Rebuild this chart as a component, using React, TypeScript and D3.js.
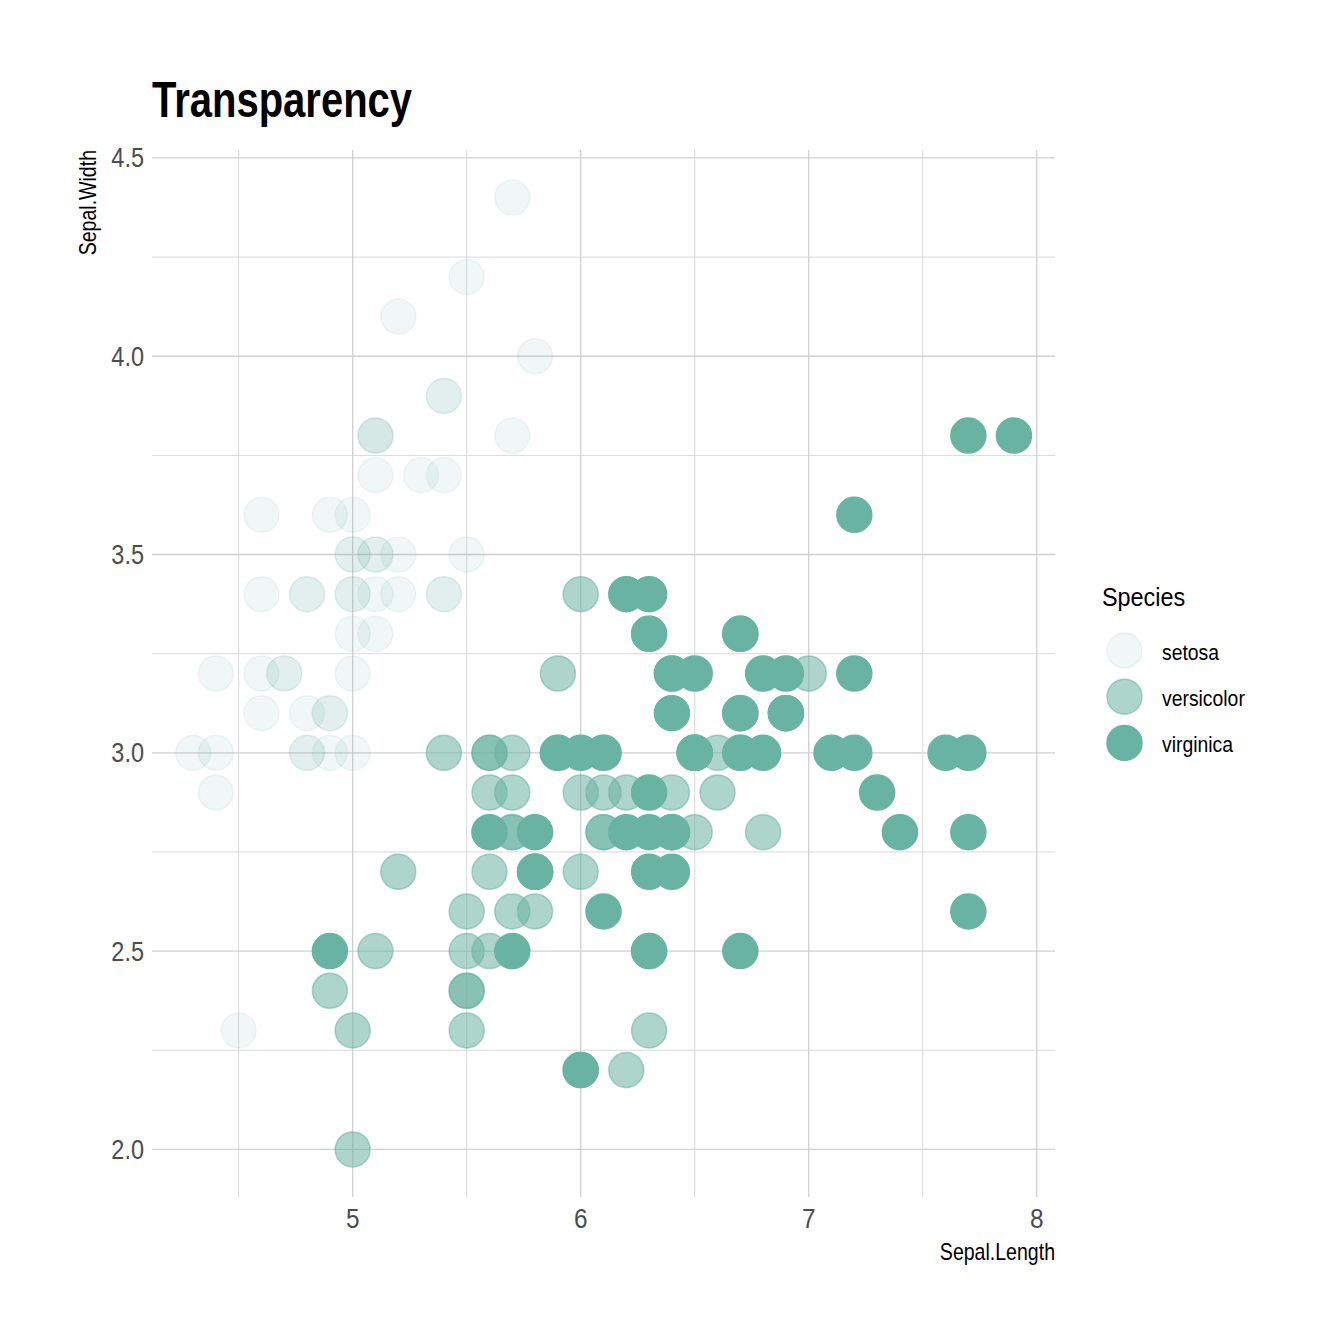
import { useEffect, useRef } from "react";
import * as d3 from "d3";

// iris data: Sepal.Length / Sepal.Width per species
const setosaLength = [5.1, 4.9, 4.7, 4.6, 5.0, 5.4, 4.6, 5.0, 4.4, 4.9, 5.4, 4.8, 4.8, 4.3, 5.8, 5.7, 5.4, 5.1, 5.7, 5.1, 5.4, 5.1, 4.6, 5.1, 4.8, 5.0, 5.0, 5.2, 5.2, 4.7, 4.8, 5.4, 5.2, 5.5, 4.9, 5.0, 5.5, 4.9, 4.4, 5.1, 5.0, 4.5, 4.4, 5.0, 5.1, 4.8, 5.1, 4.6, 5.3, 5.0];
const setosaWidth = [3.5, 3.0, 3.2, 3.1, 3.6, 3.9, 3.4, 3.4, 2.9, 3.1, 3.7, 3.4, 3.0, 3.0, 4.0, 4.4, 3.9, 3.5, 3.8, 3.8, 3.4, 3.7, 3.6, 3.3, 3.4, 3.0, 3.4, 3.5, 3.4, 3.2, 3.1, 3.4, 4.1, 4.2, 3.1, 3.2, 3.5, 3.6, 3.0, 3.4, 3.5, 2.3, 3.2, 3.5, 3.8, 3.0, 3.8, 3.2, 3.7, 3.3];
const versicolorLength = [7.0, 6.4, 6.9, 5.5, 6.5, 5.7, 6.3, 4.9, 6.6, 5.2, 5.0, 5.9, 6.0, 6.1, 5.6, 6.7, 5.6, 5.8, 6.2, 5.6, 5.9, 6.1, 6.3, 6.1, 6.4, 6.6, 6.8, 6.7, 6.0, 5.7, 5.5, 5.5, 5.8, 6.0, 5.4, 6.0, 6.7, 6.3, 5.6, 5.5, 5.5, 6.1, 5.8, 5.0, 5.6, 5.7, 5.7, 6.2, 5.1, 5.7];
const versicolorWidth = [3.2, 3.2, 3.1, 2.3, 2.8, 2.8, 3.3, 2.4, 2.9, 2.7, 2.0, 3.0, 2.2, 2.9, 2.9, 3.1, 3.0, 2.7, 2.2, 2.5, 3.2, 2.8, 2.5, 2.8, 2.9, 3.0, 2.8, 3.0, 2.9, 2.6, 2.4, 2.4, 2.7, 2.7, 3.0, 3.4, 3.1, 2.3, 3.0, 2.5, 2.6, 3.0, 2.6, 2.3, 2.7, 3.0, 2.9, 2.9, 2.5, 2.8];
const virginicaLength = [6.3, 5.8, 7.1, 6.3, 6.5, 7.6, 4.9, 7.3, 6.7, 7.2, 6.5, 6.4, 6.8, 5.7, 5.8, 6.4, 6.5, 7.7, 7.7, 6.0, 6.9, 5.6, 7.7, 6.3, 6.7, 7.2, 6.2, 6.1, 6.4, 7.2, 7.4, 7.9, 6.4, 6.3, 6.1, 7.7, 6.3, 6.4, 6.0, 6.9, 6.7, 6.9, 5.8, 6.8, 6.7, 6.7, 6.3, 6.5, 6.2, 5.9];
const virginicaWidth = [3.3, 2.7, 3.0, 2.9, 3.0, 3.0, 2.5, 2.9, 2.5, 3.6, 3.2, 2.7, 3.0, 2.5, 2.8, 3.2, 3.0, 3.8, 2.6, 2.2, 3.2, 2.8, 2.8, 2.7, 3.3, 3.2, 2.8, 3.0, 2.8, 3.0, 2.8, 3.8, 2.8, 2.8, 2.6, 3.0, 3.4, 3.1, 3.0, 3.1, 3.1, 3.1, 2.7, 3.2, 3.3, 3.0, 2.5, 3.0, 3.4, 3.0];

const species = ["setosa", "versicolor", "virginica"];
const speciesAlpha = [0.1, 0.55, 1];
const xTicks = [5, 6, 7, 8];
const yTicks = [2.0, 2.5, 3.0, 3.5, 4.0, 4.5];
const xMinor = [4.5, 5.5, 6.5, 7.5];
const yMinor = [2.25, 2.75, 3.25, 3.75, 4.25];

type Pt = { x: number; y: number; s: number };

// no Arial Narrow available, so squeeze Liberation Sans horizontally
const FONT = "'Liberation Sans', Arial, sans-serif";
const COLOR = "#69b3a2";

export default function App() {
  const svgRef = useRef<SVGSVGElement>(null);

  useEffect(() => {
    const width = 1344;
    const height = 1344;
    const svg = d3.select(svgRef.current).attr("width", width).attr("height", height);
    svg.selectAll("*").remove();

    const left = 152;
    const right = 1055;
    const top = 150;
    const bottom = 1197;

    // data in row order
    const lengths = [setosaLength, versicolorLength, virginicaLength];
    const widths = [setosaWidth, versicolorWidth, virginicaWidth];
    const data: Pt[] = [];
    lengths.forEach((arr, s) => arr.forEach((x, i) => data.push({ x, y: widths[s][i], s })));

    const xExt = d3.extent(data, (d) => d.x) as [number, number];
    const yExt = d3.extent(data, (d) => d.y) as [number, number];
    const xPad = (xExt[1] - xExt[0]) * 0.05;
    const yPad = (yExt[1] - yExt[0]) * 0.05;
    const xScale = d3.scaleLinear().domain([xExt[0] - xPad, xExt[1] + xPad]).range([left, right]);
    const yScale = d3.scaleLinear().domain([yExt[0] - yPad, yExt[1] + yPad]).range([bottom, top]);
    const alpha = d3.scaleOrdinal<number, number>().domain([0, 1, 2]).range(speciesAlpha);

    // grids
    const grid = svg.append("g");
    grid.selectAll(".vminor").data(xMinor).join("line")
      .attr("x1", (d) => xScale(d)).attr("x2", (d) => xScale(d))
      .attr("y1", top).attr("y2", bottom)
      .attr("stroke", "#d9d9d9").attr("stroke-width", 1);
    grid.selectAll(".hminor").data(yMinor).join("line")
      .attr("y1", (d) => yScale(d)).attr("y2", (d) => yScale(d))
      .attr("x1", left).attr("x2", right)
      .attr("stroke", "#d9d9d9").attr("stroke-width", 1);
    grid.selectAll(".vmajor").data(xTicks).join("line")
      .attr("x1", (d) => xScale(d)).attr("x2", (d) => xScale(d))
      .attr("y1", top).attr("y2", bottom)
      .attr("stroke", "#d0d0d0").attr("stroke-width", 1.3);
    grid.selectAll(".hmajor").data(yTicks).join("line")
      .attr("y1", (d) => yScale(d)).attr("y2", (d) => yScale(d))
      .attr("x1", left).attr("x2", right)
      .attr("stroke", "#d0d0d0").attr("stroke-width", 1.3);

    // tick labels
    svg.append("g").selectAll("text").data(xTicks).join("text")
      .attr("transform", (d) => `translate(${xScale(d)}, 1228) scale(0.87, 1)`)
      .attr("text-anchor", "middle")
      .attr("font-family", FONT).attr("font-size", 28).attr("fill", "#4d4d4d")
      .text((d) => d3.format("d")(d));
    svg.append("g").selectAll("text").data(yTicks).join("text")
      .attr("transform", (d) => `translate(144, ${yScale(d) + 9.5}) scale(0.87, 1)`)
      .attr("text-anchor", "end")
      .attr("font-family", FONT).attr("font-size", 27).attr("fill", "#4d4d4d")
      .text((d) => d3.format(".1f")(d));

    // points
    svg.append("g").selectAll("circle").data(data).join("circle")
      .attr("cx", (d) => xScale(d.x)).attr("cy", (d) => yScale(d.y))
      .attr("r", 17.5)
      .attr("fill", COLOR).attr("fill-opacity", (d) => alpha(d.s))
      .attr("stroke", COLOR).attr("stroke-opacity", (d) => alpha(d.s))
      .attr("stroke-width", 1.5);

    // title and axis titles
    svg.append("text").attr("transform", "translate(152, 116.5) scale(0.8, 1)")
      .attr("font-family", FONT).attr("font-size", 50).attr("font-weight", "bold")
      .attr("fill", "#000").text("Transparency");
    svg.append("text").attr("transform", `translate(96, ${top}) rotate(-90) scale(0.85, 1)`)
      .attr("text-anchor", "end")
      .attr("font-family", FONT).attr("font-size", 23).attr("fill", "#000")
      .text("Sepal.Width");
    svg.append("text").attr("transform", `translate(${right}, 1260) scale(0.85, 1)`)
      .attr("text-anchor", "end")
      .attr("font-family", FONT).attr("font-size", 23).attr("fill", "#000")
      .text("Sepal.Length");

    // legend
    const legend = svg.append("g");
    legend.append("text").attr("transform", "translate(1102, 606) scale(0.9, 1)")
      .attr("font-family", FONT).attr("font-size", 26).attr("fill", "#000")
      .text("Species");
    const keys = legend.selectAll(".key").data(species).join("g")
      .attr("transform", (_, i) => `translate(0, ${650.5 + i * 46.2})`);
    keys.append("circle").attr("cx", 1124.5).attr("cy", 0).attr("r", 17.5)
      .attr("fill", COLOR).attr("fill-opacity", (_, i) => alpha(i))
      .attr("stroke", COLOR).attr("stroke-opacity", (_, i) => alpha(i))
      .attr("stroke-width", 1.5);
    keys.append("text").attr("transform", "translate(1162, 9) scale(0.88, 1)")
      .attr("font-family", FONT).attr("font-size", 22).attr("fill", "#000")
      .text((d) => d);
  }, []);

  return <svg ref={svgRef} style={{ display: "block", position: "absolute", left: 0, top: 0 }}></svg>;
}
